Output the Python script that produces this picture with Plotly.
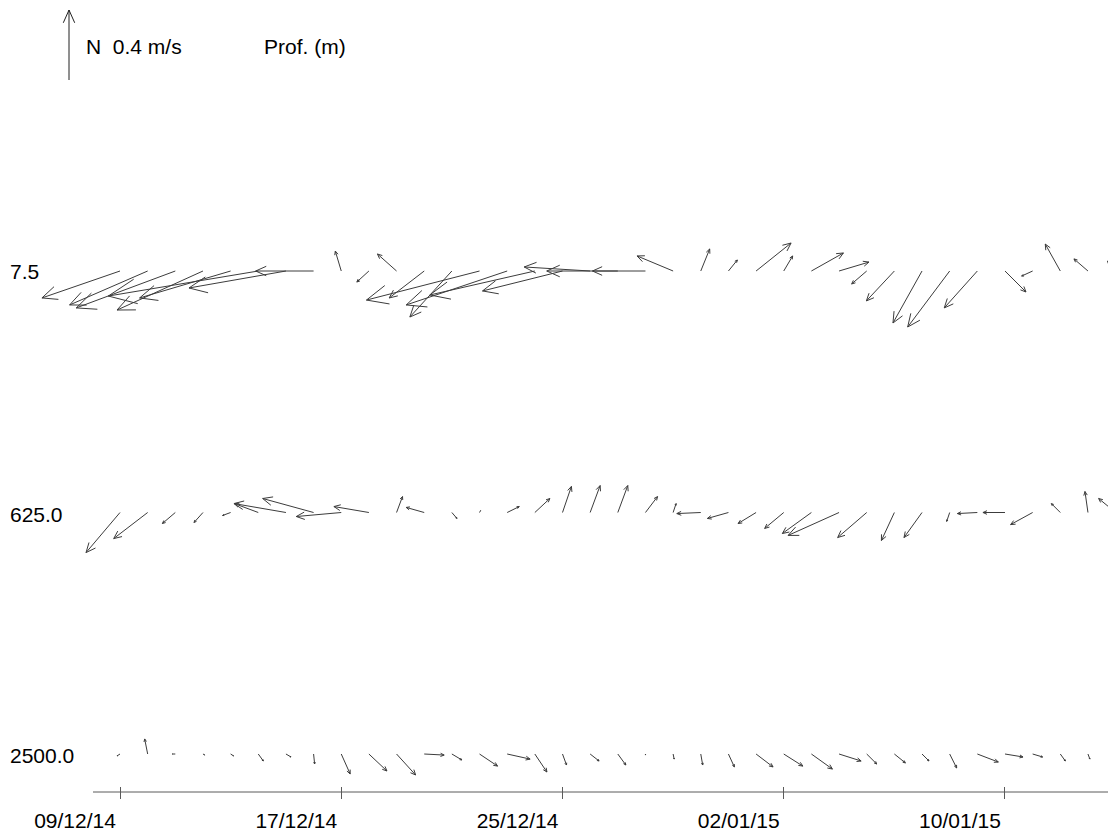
import math
import pandas as pd
import plotly.graph_objects as go

# ---------------- data (m/s, east = u, north = v) ----------------
dates = pd.date_range("2014-12-09", periods=37, freq="D")
depth_labels = ["7.5", "625.0", "2500.0"]

u_7_5 = [-0.446, -0.446, -0.566, -0.491, -0.520, -0.857, -0.554, -0.331, -0.034, -0.069,
         -0.109, -0.200, -0.240, -0.646, -0.577, -0.600, -0.457, -0.377, -0.406, -0.303,
         -0.206, 0.051, 0.051, 0.200, 0.051, 0.183, 0.171, -0.086, -0.160, -0.166,
         -0.240, -0.189, 0.120, -0.063, -0.086, -0.080, -0.046]
v_7_5 = [-0.154, -0.194, -0.211, -0.223, -0.154, -0.143, -0.097, 0.000, 0.114, -0.063,
         0.097, -0.154, -0.263, -0.166, -0.194, -0.137, -0.114, 0.023, 0.000, 0.000,
         0.086, 0.126, 0.063, 0.160, 0.086, 0.103, 0.051, -0.074, -0.171, -0.297,
         -0.320, -0.211, -0.120, -0.029, 0.154, 0.069, 0.057]

u_625 = [-0.194, -0.194, -0.074, -0.051, -0.046, -0.137, -0.297, -0.291, -0.257, -0.200,
         0.034, -0.103, 0.029, 0.006, 0.069, 0.086, 0.051, 0.057, 0.057, 0.069,
         0.017, -0.137, -0.120, -0.103, -0.109, -0.166, -0.291, -0.166, -0.074, -0.103,
         -0.017, -0.114, -0.126, -0.126, -0.051, -0.017, -0.097]
v_625 = [-0.229, -0.149, -0.063, -0.057, -0.017, 0.051, 0.051, 0.080, -0.023, 0.034,
         0.091, 0.029, -0.034, 0.011, 0.034, 0.080, 0.149, 0.154, 0.154, 0.091,
         0.051, -0.006, -0.034, -0.063, -0.091, -0.120, -0.131, -0.143, -0.160, -0.143,
         -0.051, -0.006, 0.000, -0.069, 0.051, 0.120, 0.080]

u_2500 = [-0.017, -0.017, -0.017, 0.011, 0.017, 0.029, 0.029, 0.006, 0.051, 0.103,
          0.109, 0.114, 0.057, 0.103, 0.131, 0.069, 0.023, 0.051, 0.046, 0.000,
          0.006, 0.011, 0.034, 0.097, 0.109, 0.120, 0.126, 0.057, 0.063, 0.040,
          0.040, 0.120, 0.103, 0.057, 0.029, 0.011, 0.006]
v_2500 = [-0.011, 0.086, 0.000, -0.006, -0.011, -0.040, -0.017, -0.057, -0.114, -0.097,
          -0.120, -0.006, -0.034, -0.069, -0.029, -0.103, -0.063, -0.040, -0.063, -0.006,
          -0.029, -0.063, -0.074, -0.074, -0.069, -0.086, -0.040, -0.057, -0.051, -0.040,
          -0.080, -0.046, -0.017, -0.017, -0.040, -0.029, -0.023]

series_u = [u_7_5, u_625, u_2500]
series_v = [v_7_5, v_625, v_2500]

key_speed = 0.4          # m/s, scale arrow
key_label = "N  0.4 m/s"
depth_title = "Prof. (m)"
tick_start = "2014-12-09"
tick_step_days = 8

# ---------------- layout constants (figure pixels; page adds an 8px body margin) ----------------
W, H = 1108, 823
X_TICK0_PX = 112.0       # pixel of first tick date
PX_PER_DAY = 27.656
ROW0_PX = 263.0
ROW_GAP_PX = 241.5
SPEED_PX = 175.0         # pixels per m/s
AXIS_Y_PX = 784.0
AXIS_X0_PX = 85.0
KEY_TAIL = (61.0, 72.0)
TITLE_Y_PX = 38.0
HEAD_FRAC = 0.2
HEAD_ANG = math.radians(24)
FONT = dict(family="Liberation Sans, Arial, sans-serif", size=21, color="black")
LINE_COLOR = "#3c3c3c"

t0 = pd.Timestamp(tick_start)
MS_DAY = 86400000.0
t0_ms = t0.value / 1e6
x_start_ms = t0_ms - X_TICK0_PX / PX_PER_DAY * MS_DAY
x_end_ms = x_start_ms + W / PX_PER_DAY * MS_DAY


def px_to_x(px):
    return x_start_ms + px / PX_PER_DAY * MS_DAY


def px_to_y(py):
    return (py - ROW0_PX) / ROW_GAP_PX


def arrow_pts(tx, ty, dx, dy):
    hx, hy = tx + dx, ty + dy
    pts = [(tx, ty), (hx, hy), None]
    L = math.hypot(dx, dy)
    if L > 0.8:
        back = math.atan2(-dy, -dx)
        hl = HEAD_FRAC * L
        for s in (1, -1):
            pts += [(hx + hl * math.cos(back + s * HEAD_ANG), hy + hl * math.sin(back + s * HEAD_ANG)),
                    (hx, hy), None]
    return pts


fig = go.Figure()

for k, (us, vs) in enumerate(zip(series_u, series_v)):
    xs, ys = [], []
    ty = ROW0_PX + k * ROW_GAP_PX
    for d, u, v in zip(dates, us, vs):
        tx = X_TICK0_PX + (d - t0) / pd.Timedelta(days=1) * PX_PER_DAY
        for p in arrow_pts(tx, ty, u * SPEED_PX, -v * SPEED_PX):
            if p is None:
                xs.append(None); ys.append(None)
            else:
                xs.append(px_to_x(p[0])); ys.append(px_to_y(p[1]))
    fig.add_trace(go.Scatter(x=xs, y=ys, mode="lines", hoverinfo="skip",
                             line=dict(color=LINE_COLOR, width=1), showlegend=False,
                             name=depth_labels[k]))

# scale key arrow (north, key_speed)
kx, ky = [], []
for p in arrow_pts(KEY_TAIL[0], KEY_TAIL[1], 0.0, -key_speed * SPEED_PX):
    if p is None:
        kx.append(None); ky.append(None)
    else:
        kx.append(px_to_x(p[0])); ky.append(px_to_y(p[1]))
fig.add_trace(go.Scatter(x=kx, y=ky, mode="lines", hoverinfo="skip",
                         line=dict(color="#202020", width=1), showlegend=False))

annotations = []
row_label_shift = [0, -2, -1]
for k, lab in enumerate(depth_labels):
    annotations.append(dict(x=0, xref="paper", xanchor="left", y=k, yref="y",
                            yanchor="middle", yshift=row_label_shift[k], text=lab,
                            showarrow=False, font=FONT))
annotations.append(dict(x=76 / W, xref="paper", xanchor="left", y=px_to_y(TITLE_Y_PX), yref="y",
                        yanchor="middle", text=key_label, showarrow=False, font=FONT))
annotations.append(dict(x=254 / W, xref="paper", xanchor="left", y=px_to_y(TITLE_Y_PX), yref="y",
                        yanchor="middle", text=depth_title, showarrow=False, font=FONT))

fig.update_layout(
    width=W, height=H,
    margin=dict(l=0, r=0, t=0, b=0),
    paper_bgcolor="white", plot_bgcolor="white",
    font=FONT,
    annotations=annotations,
    shapes=[dict(type="line", xref="paper", yref="paper",
                 x0=AXIS_X0_PX / W, x1=1, y0=1 - AXIS_Y_PX / H, y1=1 - AXIS_Y_PX / H,
                 line=dict(color="#5a5a5a", width=1))],
    xaxis=dict(type="date", range=[x_start_ms, x_end_ms], anchor="free",
               position=1 - 778.0 / H, showgrid=False, zeroline=False, showline=False,
               ticks="outside", ticklen=12, tickwidth=1, tickcolor="#5a5a5a",
               tick0=tick_start, dtick=tick_step_days * MS_DAY, tickformat="%d/%m/%y",
               ticklabelshift=-45, ticklabelstandoff=4, tickfont=FONT),
    yaxis=dict(range=[px_to_y(H), px_to_y(0)], showgrid=False, zeroline=False,
               showline=False, showticklabels=False, ticks=""),
)

fig.write_html("out.html")
